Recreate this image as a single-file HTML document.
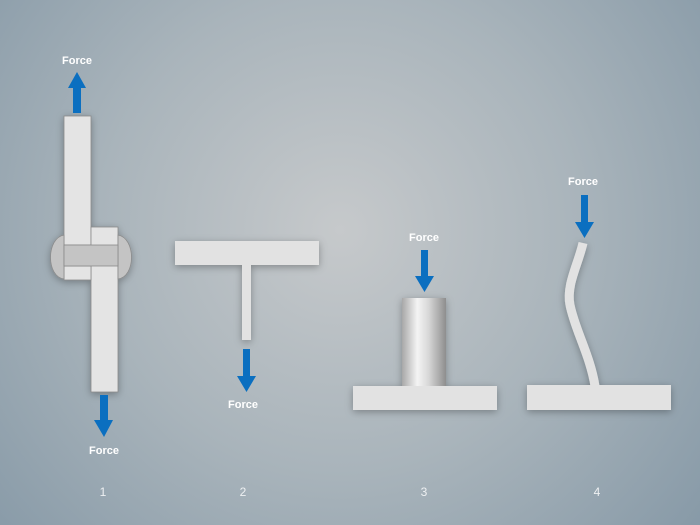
<!DOCTYPE html>
<html><head><meta charset="utf-8"><style>
html,body{margin:0;padding:0;width:700px;height:525px;overflow:hidden}
svg{display:block}
text{font-family:"Liberation Sans",sans-serif}
</style></head><body>
<svg width="700" height="525" viewBox="0 0 700 525">
<defs>
<radialGradient id="bg" cx="340" cy="230" r="480" gradientUnits="userSpaceOnUse">
<stop offset="0" stop-color="#c6c9cb"/><stop offset="0.5" stop-color="#a9b4bb"/><stop offset="1" stop-color="#8598a6"/>
</radialGradient>
<linearGradient id="cyl" x1="0" x2="1"><stop offset="0" stop-color="#a8a8a8"/><stop offset="0.35" stop-color="#f4f4f4"/><stop offset="0.6" stop-color="#d8d8d8"/><stop offset="1" stop-color="#8e8e8e"/></linearGradient>
<filter id="sh" x="-30%" y="-30%" width="160%" height="160%"><feDropShadow dx="0" dy="2" stdDeviation="4" flood-color="#000" flood-opacity="0.3"/></filter>
</defs>
<rect width="700" height="525" fill="url(#bg)"/>
<g fill="#e4e4e4" stroke="#8a8a8a" stroke-width="0.8" filter="url(#sh)">
<rect x="64" y="116" width="27" height="129"/>
<rect x="91" y="227" width="27" height="165"/>
<rect x="64" y="266" width="27" height="14"/>
<path d="M64 235 C46 238 46 277 64 279 Z M118 235 C136 238 136 277 118 279 Z" fill="#c4c4c4"/>
<rect x="64" y="245" width="54" height="21" fill="#c4c4c4"/>
</g>
<g fill="#e2e2e2" filter="url(#sh)">
<rect x="175" y="241" width="144" height="24"/>
<rect x="242" y="265" width="9" height="75"/>
</g>
<g filter="url(#sh)">
<rect x="402" y="298" width="44" height="88" fill="url(#cyl)"/>
<rect x="353" y="386" width="144" height="24" fill="#e2e2e2"/>
</g>
<g filter="url(#sh)">
<path d="M583 243 C578 265 566 285 570 305 C575 330 590 355 595 386" fill="none" stroke="#e2e2e2" stroke-width="9"/>
<rect x="527" y="385" width="144" height="25" fill="#e2e2e2"/>
</g>
<g fill="#0b6fc0">
<path d="M73 113 V88 H68 L77 72 L86 88 H81 V113 Z"/>
<path d="M100 395 V420 H94 L104 437 L113 420 H108 V395 Z"/>
<path d="M243 349 V376 H237 L246.5 392 L256 376 H250 V349 Z"/>
<path d="M421 250 V276 H415 L424.5 292 L434 276 H428 V250 Z"/>
<path d="M581 195 V222 H575 L584.5 238 L594 222 H588 V195 Z"/>
</g>
<g fill="#fff" font-size="11" font-weight="bold" text-anchor="middle">
<text x="77" y="64">Force</text>
<text x="104" y="454">Force</text>
<text x="243" y="408">Force</text>
<text x="424" y="241">Force</text>
<text x="583" y="185">Force</text>
</g>
<g fill="#eef0f2" font-size="12" text-anchor="middle">
<text x="103" y="496">1</text>
<text x="243" y="496">2</text>
<text x="424" y="496">3</text>
<text x="597" y="496">4</text>
</g>
</svg>
</body></html>
